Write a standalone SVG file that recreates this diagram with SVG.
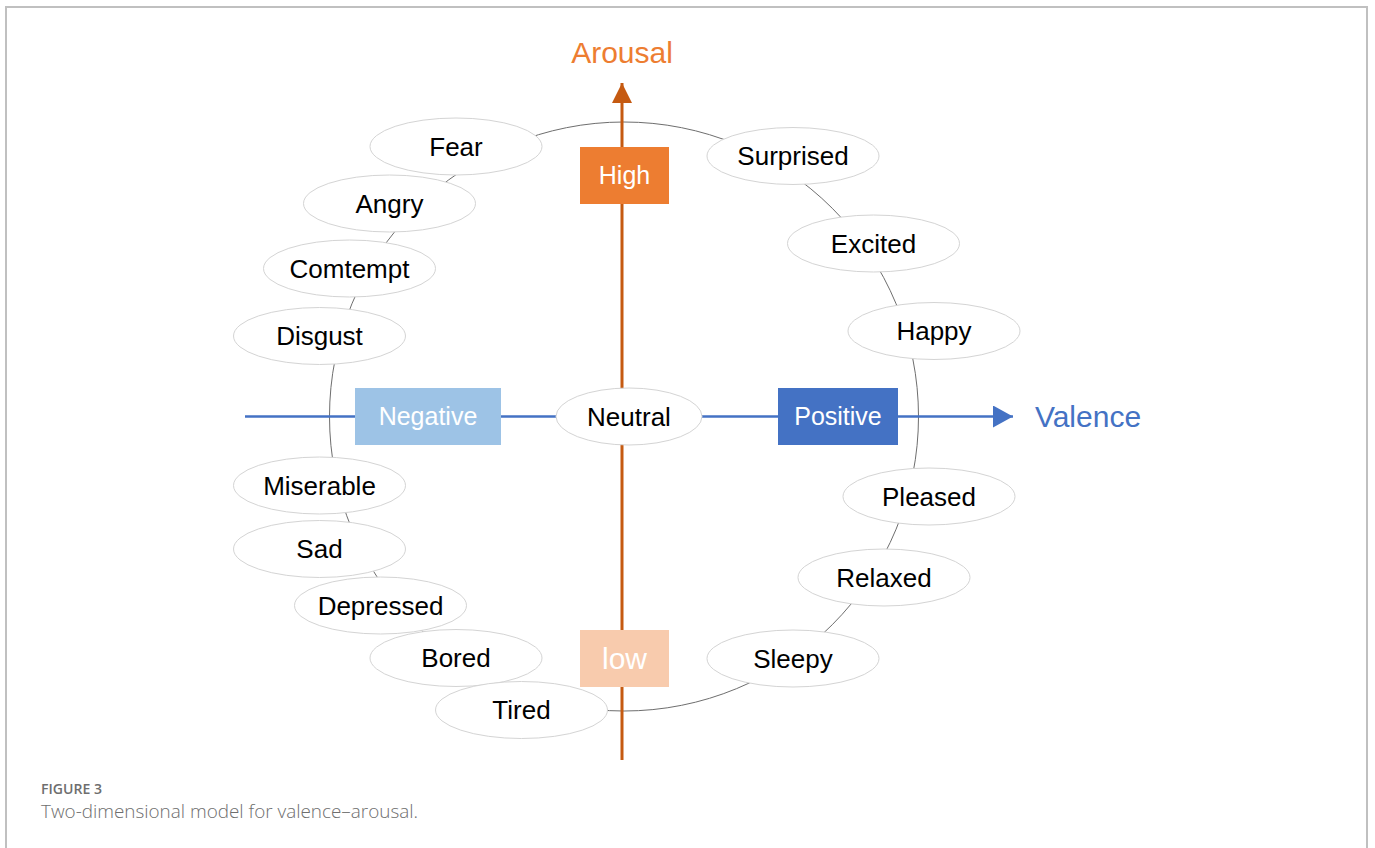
<svg xmlns="http://www.w3.org/2000/svg" width="1375" height="848" viewBox="0 0 1375 848">
  <defs>
    <style>
      .node ellipse { fill: #ffffff; stroke: #d4d4d4; stroke-width: 1; }
      .node text { font-family: "Liberation Sans", Arial, sans-serif; font-size: 26px; fill: #000000; text-anchor: middle; }
      .box text { font-family: "Liberation Sans", Arial, sans-serif; font-size: 25px; fill: #ffffff; text-anchor: middle; }
      .axislabel { font-family: "Liberation Sans", Arial, sans-serif; font-size: 30px; text-anchor: middle; }
      .caption { font-family: "Open Sans", "Liberation Sans", Arial, sans-serif; fill: #6e6e6e; }
    </style>
    <marker id="arrOrange" markerUnits="userSpaceOnUse" markerWidth="20" markerHeight="20" refX="20" refY="10" orient="auto">
      <path d="M0,0 L20,10 L0,20 Z" fill="#C55A11"/>
    </marker>
    <marker id="arrBlue" markerUnits="userSpaceOnUse" markerWidth="20" markerHeight="22" refX="20" refY="11" orient="auto">
      <path d="M0,0 L20,11 L0,22 Z" fill="#4472C4"/>
    </marker>
  </defs>
  <rect width="1375" height="848" fill="#ffffff"/>
  <!-- frame -->
  <path d="M6,848 L6,7 L1367,7 L1367,848" fill="none" stroke="#c0c0c0" stroke-width="2"/>

  <g id="connectors">
    <circle cx="624" cy="416.5" r="294.5" fill="none" stroke="#6e6e6e" stroke-width="1"/>
    <line x1="622" y1="760" x2="622" y2="83" stroke="#C55A11" stroke-width="3" marker-end="url(#arrOrange)"/>
    <line x1="245" y1="416.5" x2="1013" y2="416.5" stroke="#4472C4" stroke-width="2.5" marker-end="url(#arrBlue)"/>
  </g>

  <text class="axislabel" x="622" y="63" fill="#ED7D31">Arousal</text>
  <text class="axislabel" x="1088" y="427" fill="#4472C4">Valence</text>

  <g id="high" class="box">
    <rect x="580" y="147" width="89" height="57" fill="#ED7D31"/>
    <text x="624.5" y="184">High</text>
  </g>
  <g id="low" class="box">
    <rect x="580" y="630" width="89" height="57" fill="#F8CBAD"/>
    <text x="624.5" y="669" style="font-size:30px">low</text>
  </g>
  <g id="negative" class="box">
    <rect x="355" y="388" width="146" height="57" fill="#9DC3E6"/>
    <text x="428" y="425">Negative</text>
  </g>
  <g id="positive" class="box">
    <rect x="778" y="388" width="120" height="57" fill="#4472C4"/>
    <text x="838" y="425">Positive</text>
  </g>

  <g id="neutral" class="node"><ellipse cx="629" cy="416.5" rx="73" ry="28.5"/><text x="629" y="425.5">Neutral</text></g>
  <g id="fear" class="node"><ellipse cx="456" cy="146.5" rx="86" ry="28.5"/><text x="456" y="155.5">Fear</text></g>
  <g id="angry" class="node"><ellipse cx="389.5" cy="203.5" rx="86" ry="28.5"/><text x="389.5" y="212.5">Angry</text></g>
  <g id="comtempt" class="node"><ellipse cx="349.5" cy="268.5" rx="86" ry="28.5"/><text x="349.5" y="277.5">Comtempt</text></g>
  <g id="disgust" class="node"><ellipse cx="319.5" cy="336" rx="86" ry="28.5"/><text x="319.5" y="345">Disgust</text></g>
  <g id="miserable" class="node"><ellipse cx="319.5" cy="485.5" rx="86" ry="28.5"/><text x="319.5" y="494.5">Miserable</text></g>
  <g id="sad" class="node"><ellipse cx="319.5" cy="549" rx="86" ry="28.5"/><text x="319.5" y="558">Sad</text></g>
  <g id="depressed" class="node"><ellipse cx="380.5" cy="605.5" rx="86" ry="28.5"/><text x="380.5" y="614.5">Depressed</text></g>
  <g id="bored" class="node"><ellipse cx="456" cy="658" rx="86" ry="28.5"/><text x="456" y="667">Bored</text></g>
  <g id="tired" class="node"><ellipse cx="521.5" cy="710" rx="86" ry="28.5"/><text x="521.5" y="719">Tired</text></g>
  <g id="surprised" class="node"><ellipse cx="793" cy="156" rx="86" ry="28.5"/><text x="793" y="165">Surprised</text></g>
  <g id="excited" class="node"><ellipse cx="873.5" cy="243.5" rx="86" ry="28.5"/><text x="873.5" y="252.5">Excited</text></g>
  <g id="happy" class="node"><ellipse cx="934" cy="331" rx="86" ry="28.5"/><text x="934" y="340">Happy</text></g>
  <g id="pleased" class="node"><ellipse cx="929" cy="496.5" rx="86" ry="28.5"/><text x="929" y="505.5">Pleased</text></g>
  <g id="relaxed" class="node"><ellipse cx="884" cy="577.5" rx="86" ry="28.5"/><text x="884" y="586.5">Relaxed</text></g>
  <g id="sleepy" class="node"><ellipse cx="793" cy="658.5" rx="86" ry="28.5"/><text x="793" y="667.5">Sleepy</text></g>

  <text class="caption" x="41" y="794" style="font-size:14px;font-weight:600" textLength="61" lengthAdjust="spacingAndGlyphs">FIGURE 3</text>
  <text class="caption" x="41" y="818" style="font-size:18px;font-weight:300" textLength="377" lengthAdjust="spacingAndGlyphs">Two-dimensional model for valence–arousal.</text>
</svg>
